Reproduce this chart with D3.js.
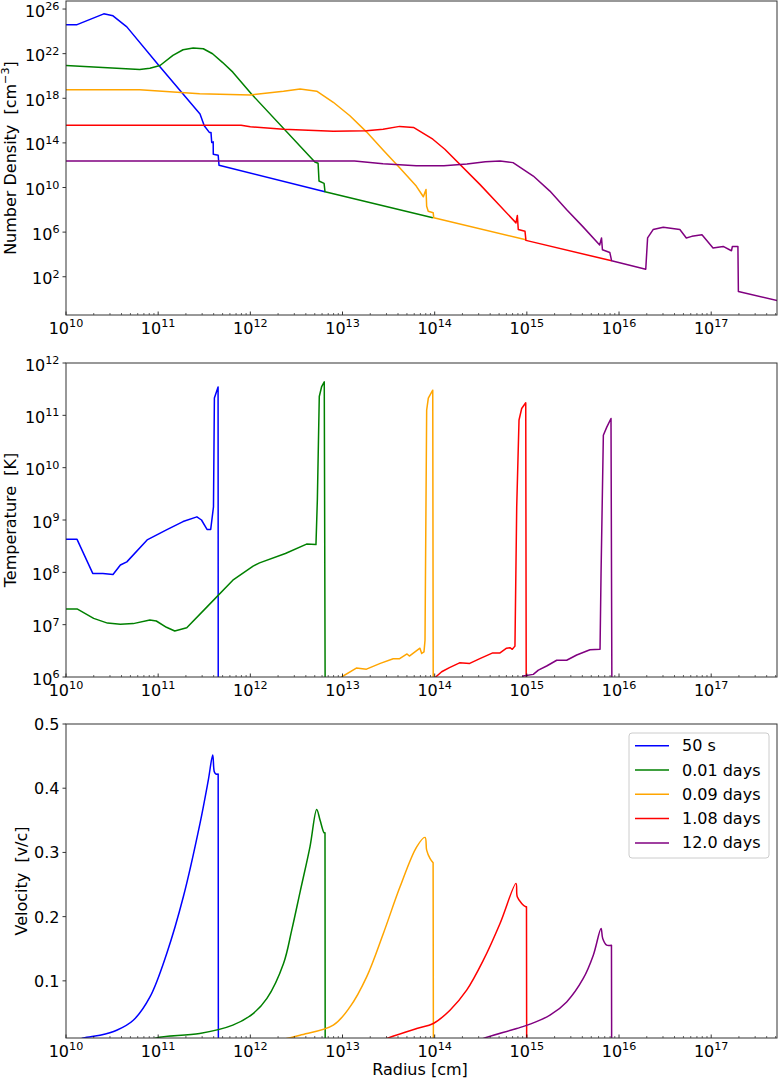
<!DOCTYPE html>
<html>
<head>
<meta charset="utf-8">
<script src="https://cdn.jsdelivr.net/npm/d3@7"></script>
<style>
  body { margin: 0; background: #fff; }
  svg { display: block; }
  text { font-family: "DejaVu Sans", sans-serif; fill: #000; }
</style>
</head>
<body>
<svg id="chart" width="778" height="1079"></svg>
<script>
// series labels (legend) and colours
const seriesLabels = ["50 s", "0.01 days", "0.09 days", "1.08 days", "12.0 days"];
const seriesColors = ["blue", "green", "orange", "red", "purple"];

// number density: [log10 radius (cm), log10 n (cm^-3)]
const densBlue = [[10.0,24.6],[10.12,24.6],[10.41,25.57],[10.51,25.39],[10.66,24.4],[11.01,20.91],[11.454,16.59],
  [11.50,15.53],[11.555,14.94],[11.573,14.94],[11.581,14.04],[11.597,14.09],[11.598,12.98],[11.651,12.89],[11.66,11.99],[12.81,9.62]];
const densGreen = [[10.0,20.94],[10.4,20.76],[10.8,20.58],[10.91,20.7],[11.02,20.94],[11.16,21.84],[11.27,22.35],[11.38,22.5],
  [11.49,22.44],[11.59,21.99],[11.70,21.2],[11.81,20.34],[12.01,18.4],[12.70,12.29],[12.735,12.17],[12.745,10.58],[12.80,10.37],
  [12.81,9.62],[13.98,7.28]];
const densOrange = [[10.0,18.77],[10.8,18.77],[11.45,18.41],[12.0,18.3],[12.36,18.63],[12.54,18.84],[12.72,18.63],[12.9,17.64],
  [13.08,16.43],[13.26,14.99],[13.44,13.37],[13.62,11.78],[13.80,10.13],[13.877,9.17],[13.906,9.83],[13.913,8.32],[13.93,7.87],
  [13.984,7.73],[13.99,7.28],[14.99,5.31]];
const densRed = [[10.0,15.59],[11.9,15.59],[12.0,15.44],[12.36,15.23],[12.9,15.05],[13.26,15.08],[13.44,15.23],[13.62,15.48],
  [13.77,15.39],[13.98,14.33],[14.11,13.43],[14.49,10.28],[14.882,6.83],[14.897,7.49],[14.907,6.23],[14.98,6.07],[14.99,5.26],[15.92,3.43]];
const densPurple = [[10.0,12.38],[13.13,12.38],[13.44,12.14],[13.80,11.95],[14.1,11.95],[14.35,12.1],[14.55,12.3],[14.71,12.38],
  [14.85,12.23],[15.07,11.03],[15.25,9.68],[15.43,8.03],[15.61,6.47],[15.79,4.85],[15.81,5.48],[15.82,4.42],[15.90,4.18],
  [15.92,3.43],[16.29,2.68],[16.31,5.48],[16.37,6.23],[16.48,6.43],[16.66,6.23],[16.73,5.48],[16.79,5.62],[16.90,5.77],
  [17.02,4.58],[17.13,4.72],[17.22,4.33],[17.23,4.72],[17.29,4.72],[17.295,0.67],[17.72,-0.14]];

// temperature: [log10 radius, log10 T (K)]
const tempBlue = [[10.0,8.63],[10.12,8.63],[10.29,7.98],[10.40,7.98],[10.51,7.96],[10.59,8.14],[10.66,8.20],[10.88,8.62],
  [10.98,8.71],[11.09,8.81],[11.27,8.97],[11.42,9.06],[11.47,9.0],[11.53,8.82],[11.57,8.82],[11.60,9.25],[11.61,11.33],
  [11.65,11.54],[11.652,5.0]];
const tempGreen = [[10.0,7.30],[10.12,7.30],[10.30,7.12],[10.45,7.03],[10.59,7.01],[10.73,7.02],[10.91,7.09],[10.98,7.07],
  [11.09,6.95],[11.18,6.88],[11.31,6.94],[11.53,7.34],[11.81,7.85],[12.03,8.12],[12.10,8.18],[12.38,8.36],[12.61,8.54],
  [12.712,8.53],[12.727,9.38],[12.748,11.36],[12.774,11.55],[12.802,11.64],[12.813,5.0]];
const tempOrange = [[12.9,5.8],[12.99,6.0],[13.15,6.17],[13.26,6.15],[13.41,6.26],[13.55,6.35],[13.62,6.35],[13.70,6.44],
  [13.725,6.40],[13.84,6.55],[13.859,6.45],[13.884,6.48],[13.895,6.70],[13.913,11.1],[13.931,11.33],[13.979,11.48],[13.985,5.0]];
const tempRed = [[13.95,5.8],[14.011,6.0],[14.076,6.10],[14.16,6.18],[14.27,6.27],[14.38,6.26],[14.49,6.35],[14.63,6.46],
  [14.709,6.46],[14.78,6.55],[14.817,6.56],[14.842,6.53],[14.871,6.59],[14.89,9.25],[14.915,10.91],[14.944,11.13],
  [14.988,11.24],[14.994,5.0]];
const tempPurple = [[14.9,5.8],[14.96,6.02],[15.07,6.05],[15.125,6.13],[15.215,6.21],[15.324,6.32],[15.432,6.32],
  [15.541,6.42],[15.685,6.52],[15.794,6.53],[15.805,7.98],[15.83,10.62],[15.866,10.77],[15.913,10.94],[15.924,5.0]];

// velocity: [log10 radius, v/c]
const velBlue = [[10.1,0.005],[10.188,0.011],[10.369,0.0153],[10.55,0.0231],[10.73,0.0387],[10.911,0.075],[11.093,0.1427],
  [11.273,0.2309],[11.454,0.3453],[11.544,0.4127],[11.592,0.4517],[11.609,0.4257],[11.627,0.4221],[11.651,0.4221],[11.653,0.0]];
const velGreen = [[10.9,0.005],[10.98,0.011],[11.45,0.018],[11.81,0.031],[12.03,0.049],[12.18,0.0726],[12.36,0.127],
  [12.449,0.179],[12.54,0.2387],[12.647,0.3088],[12.72,0.367],[12.756,0.3505],[12.80,0.3306],[12.81,0.3306],[12.812,0.0]];
const velOrange = [[12.3,0.005],[12.394,0.0101],[12.539,0.0153],[12.90,0.031],[13.081,0.0594],[13.262,0.1062],[13.443,0.1738],
  [13.624,0.2465],[13.805,0.3088],[13.895,0.3234],[13.913,0.3036],[13.949,0.2907],[13.983,0.2839],[13.986,0.0]];
const velRed = [[13.4,0.005],[13.479,0.0102],[13.805,0.0258],[13.985,0.0336],[14.166,0.0543],[14.347,0.0855],[14.528,0.1322],
  [14.709,0.1894],[14.882,0.2518],[14.896,0.2309],[14.944,0.2206],[14.988,0.2153],[14.996,0.2153],[14.998,0.0]];
const velPurple = [[14.45,0.005],[14.528,0.0102],[14.89,0.0258],[15.07,0.0345],[15.251,0.0465],[15.432,0.0672],
  [15.612,0.1037],[15.721,0.14],[15.805,0.1816],[15.823,0.166],[15.866,0.1556],[15.918,0.1556],[15.92,0.0]];

// tick values
const xTickExps = [10, 11, 12, 13, 14, 15, 16, 17];
const densTickExps = [2, 6, 10, 14, 18, 22, 26];
const tempTickExps = [6, 7, 8, 9, 10, 11, 12];
const velTicks = [0.1, 0.2, 0.3, 0.4, 0.5];

const svg = d3.select("#chart");
const x = d3.scaleLog().domain([1e10, Math.pow(10, 17.714)]).range([66, 777]);

const panels = [
  { top: 1, bottom: 315, log: true, domain: [Math.pow(10, -1.43), Math.pow(10, 26.72)], smooth: false,
    series: [densBlue, densGreen, densOrange, densRed, densPurple], ticks: densTickExps, labelX: 15.5 },
  { top: 363, bottom: 677, log: true, domain: [1e6, 1e12], smooth: false,
    series: [tempBlue, tempGreen, tempOrange, tempRed, tempPurple], ticks: tempTickExps, labelX: 15.5 },
  { top: 724, bottom: 1038, log: false, domain: [0.011, 0.5], smooth: true,
    series: [velBlue, velGreen, velOrange, velRed, velPurple], ticks: velTicks, labelX: 27 }
];

function powLabel(sel, exp) {
  sel.append("tspan").text("10");
  sel.append("tspan").attr("dy", -6.5).attr("font-size", 11.2).text(exp);
}

panels.forEach((p, i) => {
  const y = (p.log ? d3.scaleLog() : d3.scaleLinear()).domain(p.domain).range([p.bottom, p.top]);
  const g = svg.append("g");

  g.append("clipPath").attr("id", "clip" + i)
    .append("rect").attr("x", 66).attr("y", p.top).attr("width", 711).attr("height", p.bottom - p.top);

  const px = d => x(Math.pow(10, d[0]));
  const py = d => y(p.log ? Math.pow(10, d[1]) : d[1]);
  const straight = d3.line().x(px).y(py);
  const smooth = d3.line().x(px).y(py).curve(d3.curveCatmullRom.alpha(0.5));

  p.series.forEach((s, k) => {
    let d;
    if (p.smooth) {
      // smooth profile, then a straight drop behind the shock
      const last = s[s.length - 1];
      d = smooth(s.slice(0, -1)) + "L" + px(last) + "," + py(last);
    } else {
      d = straight(s);
    }
    g.append("path")
      .attr("d", d)
      .attr("clip-path", "url(#clip" + i + ")")
      .attr("fill", "none")
      .attr("stroke", seriesColors[k])
      .attr("stroke-width", 1.5)
      .attr("stroke-linejoin", "round");
  });

  // x ticks (inward), major + minor
  xTickExps.forEach(e => {
    const xv = x(Math.pow(10, e));
    g.append("line").attr("x1", xv).attr("x2", xv).attr("y1", p.bottom).attr("y2", p.bottom - 3.5)
      .attr("stroke", "#000").attr("stroke-width", 0.8);
    g.append("text").attr("x", xv).attr("y", p.bottom + 18.7).attr("text-anchor", "middle")
      .attr("font-size", 16).call(powLabel, e);
    for (let m = 2; m <= 9; m++) {
      const v = m * Math.pow(10, e);
      if (v > x.domain()[1]) break;
      const xm = x(v);
      g.append("line").attr("x1", xm).attr("x2", xm).attr("y1", p.bottom).attr("y2", p.bottom - 2)
        .attr("stroke", "#000").attr("stroke-width", 0.6);
    }
  });

  // y ticks (outward)
  p.ticks.forEach(t => {
    const yv = p.log ? y(Math.pow(10, t)) : y(t);
    g.append("line").attr("x1", 66).attr("x2", 62.5).attr("y1", yv).attr("y2", yv)
      .attr("stroke", "#000").attr("stroke-width", 0.8);
    const tx = g.append("text").attr("x", 59.5).attr("text-anchor", "end").attr("font-size", 16);
    if (p.log) {
      tx.attr("y", yv + 7.5).call(powLabel, t);
    } else {
      tx.attr("y", yv + 6).text(d3.format(".1f")(t));
    }
  });

  // frame
  g.append("rect").attr("x", 66).attr("y", p.top).attr("width", 711).attr("height", p.bottom - p.top)
    .attr("fill", "none").attr("stroke", "#333").attr("stroke-width", 1);

  // y axis label
  const mid = (p.top + p.bottom) / 2;
  const lab = g.append("text").attr("transform", `translate(${p.labelX},${mid}) rotate(-90)`)
    .attr("text-anchor", "middle").attr("font-size", 16).style("white-space", "pre");
  if (i === 0) {
    lab.append("tspan").text("Number Density  [cm");
    lab.append("tspan").attr("dy", -6.5).attr("font-size", 11.2).text("\u22123");
    lab.append("tspan").attr("dy", 6.5).text("]");
  } else if (i === 1) {
    lab.text("Temperature  [K]");
  } else {
    lab.text("Velocity  [v/c]");
  }
});

// x axis label
svg.append("text").attr("x", 420).attr("y", 1075).attr("text-anchor", "middle")
  .attr("font-size", 16).text("Radius [cm]");

// legend
const legend = svg.append("g");
legend.append("rect").attr("x", 629).attr("y", 733).attr("width", 140).attr("height", 125)
  .attr("rx", 3).attr("fill", "#fff").attr("fill-opacity", 0.8).attr("stroke", "#ccc");
seriesLabels.forEach((name, k) => {
  const ly = 745.7 + k * 24.3;
  legend.append("line").attr("x1", 635).attr("x2", 669).attr("y1", ly).attr("y2", ly)
    .attr("stroke", seriesColors[k]).attr("stroke-width", 1.5);
  legend.append("text").attr("x", 682).attr("y", ly + 5.5).attr("font-size", 16).text(name);
});
</script>
</body>
</html>
